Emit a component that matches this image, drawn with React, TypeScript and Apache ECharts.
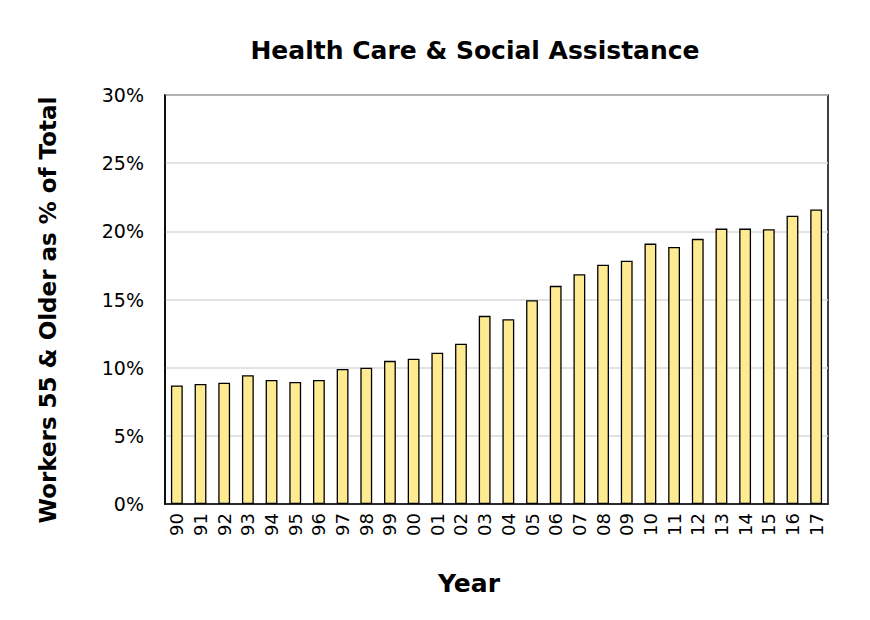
import React, { useEffect, useRef } from "react";
import * as echarts from "echarts";

const years = ["90","91","92","93","94","95","96","97","98","99","00","01","02","03","04","05","06","07","08","09","10","11","12","13","14","15","16","17"];
const share = [8.7, 8.8, 8.9, 9.45, 9.1, 8.95, 9.1, 9.9, 10.0, 10.5, 10.65, 11.1, 11.75, 13.8, 13.55, 14.95, 16.0, 16.85, 17.55, 17.85, 19.1, 18.85, 19.45, 20.2, 20.2, 20.15, 21.15, 21.6];
const yTicks = [0, 5, 10, 15, 20, 25, 30];

const FONT = "'DejaVu Sans', sans-serif";

export default function App() {
  const ref = useRef<HTMLDivElement>(null);
  useEffect(() => {
    if (!ref.current) return;
    const chart = echarts.init(ref.current, null, { renderer: "svg" });
    chart.setOption({
      animation: false,
      backgroundColor: "#ffffff",
      title: {
        text: "Health Care & Social Assistance",
        left: 470,
        textAlign: "center",
        top: 33,
        textStyle: { fontFamily: FONT, fontSize: 25, fontWeight: "bold", color: "#000" },
      },
      graphic: [
        {
          type: "text",
          x: 48,
          y: 310,
          rotation: Math.PI / 2,
          style: {
            text: "Workers 55 & Older as % of Total",
            fontFamily: FONT,
            fontSize: 23,
            fontWeight: "bold",
            fill: "#000",
            align: "center",
            verticalAlign: "middle",
          },
        },
        {
          type: "text",
          x: 469,
          y: 583,
          style: {
            text: "Year",
            fontFamily: FONT,
            fontSize: 25,
            fontWeight: "bold",
            fill: "#000",
            align: "center",
            verticalAlign: "middle",
          },
        },
      ],
      grid: {
        left: 165,
        right: 42,
        top: 95,
        bottom: 116,
        show: true,
        borderColor: "#000",
        borderWidth: 1.5,
        backgroundColor: "transparent",
      },
      xAxis: {
        type: "category",
        data: years,
        axisLine: { show: true, lineStyle: { color: "#000", width: 1.5 } },
        axisTick: { show: false },
        axisLabel: { rotate: 90, fontFamily: FONT, fontSize: 18, color: "#000", margin: 9, interval: 0 },
      },
      yAxis: {
        type: "value",
        min: yTicks[0],
        max: yTicks[yTicks.length - 1],
        interval: 5,
        axisLine: { show: true, lineStyle: { color: "#000", width: 1.5 } },
        axisTick: { show: false },
        axisLabel: { formatter: "{value}%", fontFamily: FONT, fontSize: 19, color: "#000", margin: 21 },
        splitLine: { show: true, lineStyle: { color: "#d9d9d9", width: 1.5 } },
      },
      series: [
        {
          type: "bar",
          data: share,
          barWidth: "50%",
          itemStyle: { color: "#FDEA91", borderColor: "#000", borderWidth: 1.3 },
        },
      ],
    });
    return () => chart.dispose();
  }, []);
  return <div ref={ref} style={{ position: "fixed", left: 0, top: 0, width: 870, height: 620 }} />;
}
